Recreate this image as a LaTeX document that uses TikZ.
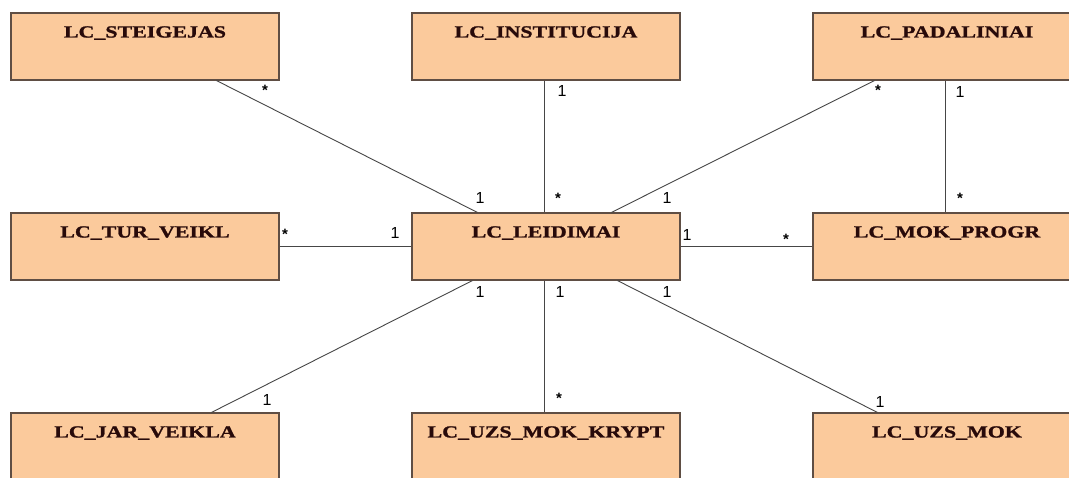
\documentclass[tikz,border=0pt]{standalone}
\usepackage{fontspec}
\setmainfont{Liberation Serif}
\newfontfamily\titlefont[FakeStretch=1.29,FakeBold=1.3]{Liberation Serif Bold}
\newfontfamily\multfont{Liberation Sans}
\definecolor{boxfill}{RGB}{251,202,156}
\definecolor{boxdraw}{RGB}{95,78,68}
\definecolor{titlecol}{RGB}{40,10,10}
\definecolor{linecol}{RGB}{70,70,70}
\tikzset{
  entity/.style={draw=boxdraw, fill=boxfill, line width=1.1pt, minimum width=268pt,
    inner xsep=0pt, inner ysep=0pt, text height=24.5pt, text depth=42.5pt,
    font=\titlefont\fontsize{17pt}{17pt}\selectfont, text=titlecol},
  assoc/.style={draw=linecol, line width=0.9pt},
  mult/.style={font=\multfont\fontsize{16pt}{16pt}\selectfont, inner sep=0pt, text=black},
  star/.style={font=\multfont\bfseries\fontsize{15pt}{15pt}\selectfont, inner sep=0pt, text=black}
}
\begin{document}
\begin{tikzpicture}[x=1pt,y=-1pt]
\fill[white] (0,0) rectangle (1069,478);
\useasboundingbox (0,0) rectangle (1069,478);
\clip (0,0) rectangle (1069,478);
% entities
\node[entity] (st) at (145,46.5) {LC\_STEIGEJAS};
\node[entity] (in) at (546,46.5) {LC\_INSTITUCIJA};
\node[entity] (pa) at (947,46.5) {LC\_PADALINIAI};
\node[entity] (tu) at (145,246.5) {LC\_TUR\_VEIKL};
\node[entity] (le) at (546,246.5) {LC\_LEIDIMAI};
\node[entity] (mo) at (947,246.5) {LC\_MOK\_PROGR};
\node[entity] (jv) at (145,446.5) {LC\_JAR\_VEIKLA};
\node[entity] (km) at (546,446.5) {LC\_UZS\_MOK\_KRYPT};
\node[entity] (um) at (947,446.5) {LC\_UZS\_MOK};
% associations
\draw[assoc] ([xshift=206]st.south west) -- ([xshift=66]le.north west);
\draw[assoc] ([xshift=133]in.south west) -- ([xshift=133]le.north west);
\draw[assoc] ([xshift=62]pa.south west) -- ([xshift=200]le.north west);
\draw[assoc] ([xshift=133]pa.south west) -- ([xshift=133]mo.north west);
\draw[assoc] (tu.east) -- (le.west);
\draw[assoc] (le.east) -- (mo.west);
\draw[assoc] ([xshift=201]jv.north west) -- ([xshift=61]le.south west);
\draw[assoc] ([xshift=133]le.south west) -- ([xshift=133]km.north west);
\draw[assoc] ([xshift=206]le.south west) -- ([xshift=65]um.north west);
% multiplicities
\node[star] (m1) at (265,90) {*};
\node[mult] (m2) at (480,198) {1};
\node[mult] (m3) at (562,91) {1};
\node[star] (m4) at (558,198) {*};
\node[star] (m5) at (878,90) {*};
\node[mult] (m6) at (667,198) {1};
\node[mult] (m7) at (960,92) {1};
\node[star] (m8) at (960,198) {*};
\node[star] (m9) at (285,234) {*};
\node[mult] (m10) at (395,233) {1};
\node[mult] (m11) at (687,235) {1};
\node[star] (m12) at (786,239) {*};
\node[mult] (m13) at (480,292) {1};
\node[mult] (m14) at (560,292) {1};
\node[mult] (m15) at (667,292) {1};
\node[mult] (m16) at (267,400) {1};
\node[star] (m17) at (559,398) {*};
\node[mult] (m18) at (880,402) {1};
\end{tikzpicture}
\end{document}
